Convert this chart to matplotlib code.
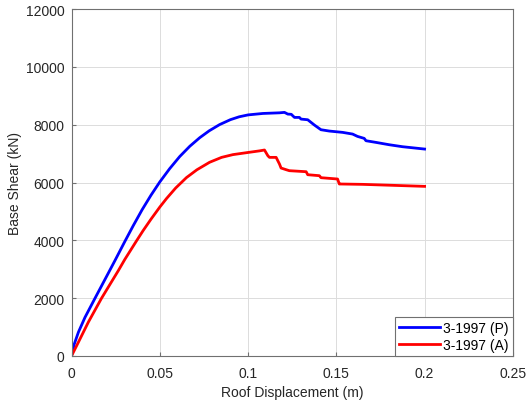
import matplotlib
matplotlib.use("Agg")
import matplotlib.pyplot as plt
from matplotlib.ticker import FixedLocator, FixedFormatter

plt.rcParams['font.family'] = ['Liberation Sans', 'DejaVu Sans']

# Pushover curves: roof displacement (m) vs base shear (kN)
disp_p = [0, 0.0015, 0.0039, 0.0076, 0.0133, 0.0208, 0.0246, 0.0302, 0.0349,
          0.04, 0.045, 0.05, 0.0556, 0.0613, 0.067, 0.0726, 0.078, 0.0839,
          0.09, 0.095, 0.1, 0.1084, 0.1178, 0.1206,
          0.1215, 0.1225, 0.1245, 0.1253, 0.1263, 0.1291, 0.1300, 0.1338,
          0.1357, 0.1376, 0.1413, 0.1460, 0.1536, 0.1592, 0.1620, 0.1658,
          0.1668, 0.1724, 0.1799, 0.1875, 0.2]
shear_p = [0, 400, 820, 1330, 1995, 2860, 3300, 3960, 4500,
           5060, 5560, 6020, 6480, 6900, 7255, 7550, 7790, 8005,
           8175, 8275, 8340, 8390, 8412, 8427,
           8400, 8368, 8360, 8311, 8253, 8253, 8195, 8172,
           8080, 7988, 7827, 7781, 7735, 7677, 7596, 7527,
           7446, 7389, 7308, 7239, 7158]

disp_a = [0, 0.0039, 0.0095, 0.017, 0.0265, 0.0302, 0.0368, 0.0406, 0.045,
          0.05, 0.0538, 0.059, 0.0651, 0.071, 0.0782, 0.085, 0.0914, 0.1,
          0.1065, 0.1093, 0.1112, 0.1121, 0.1159,
          0.1178, 0.1187, 0.1216, 0.1234, 0.1329, 0.1338, 0.1404, 0.1413,
          0.1507, 0.1517, 0.1526, 0.1649, 0.2]
shear_a = [0, 474, 1165, 1995, 2950, 3340, 3980, 4340, 4730,
           5150, 5445, 5810, 6170, 6440, 6700, 6870, 6965, 7040,
           7095, 7125, 6928, 6870, 6870,
           6639, 6501, 6443, 6409, 6374, 6270, 6236, 6167,
           6121, 5948, 5948, 5936, 5867]

labels = ['3-1997 (P)', '3-1997 (A)']
x_ticks = [0, 0.05, 0.1, 0.15, 0.2, 0.25]
x_tick_labels = ['0', '0.05', '0.1', '0.15', '0.2', '0.25']
y_ticks = [0, 2000, 4000, 6000, 8000, 10000, 12000]

fig = plt.figure(figsize=(5.26, 4.06), dpi=100)
ax = fig.add_axes([0.136, 0.121, 0.839, 0.854])

ax.plot(disp_p, shear_p, color='#0000ff', lw=2.0, label=labels[0])
ax.plot(disp_a, shear_a, color='#ff0000', lw=2.0, label=labels[1])

ax.set_xlim(0, 0.25)
ax.set_ylim(0, 12000)
ax.xaxis.set_major_locator(FixedLocator(x_ticks))
ax.xaxis.set_major_formatter(FixedFormatter(x_tick_labels))
ax.set_yticks(y_ticks)
ax.set_yticklabels([str(v) for v in y_ticks])

dark = '#262626'
ax.grid(True, color='#dcdcdc', lw=0.7)
ax.set_axisbelow(True)
for s in ax.spines.values():
    s.set_color('#707070')
    s.set_linewidth(0.8)
ax.tick_params(direction='in', length=3, width=0.8, color='#707070',
               labelcolor=dark, labelsize=10, top=False, right=False)
ax.tick_params(axis='x', pad=7)
ax.tick_params(axis='y', pad=5)

ax.set_xlabel('Roof Displacement (m)', fontsize=10, color=dark, labelpad=4)
ax.set_ylabel('Base Shear (kN)', fontsize=10, color=dark, labelpad=2.5)

leg = ax.legend(loc='lower right', borderaxespad=0, fontsize=10,
                fancybox=False, framealpha=1, edgecolor='#707070',
                handlelength=2.9, handletextpad=0.25, borderpad=0.3,
                labelspacing=0.2)
leg.get_frame().set_linewidth(0.8)
for t in leg.get_texts():
    t.set_color('#000000')

fig.savefig('out.png', dpi=100)
